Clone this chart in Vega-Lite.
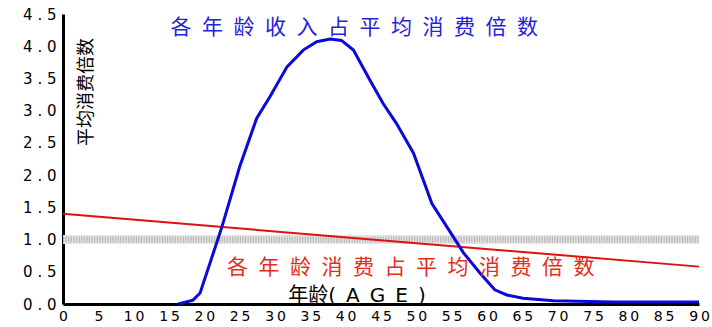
{
  "$schema": "https://vega.github.io/schema/vega-lite/v6.json",
  "width": 636,
  "height": 290,
  "autosize": {"type": "none"},
  "padding": {"left": 63, "top": 14, "right": 13, "bottom": 23},
  "background": "white",
  "config": {
    "view": {"stroke": null},
    "font": "DejaVu Sans"
  },
  "resolve": {"axis": {"x": "independent", "y": "independent"}},
  "datasets": {
    "income": [
      {"age": 16.3, "value": 0.0},
      {"age": 18.4, "value": 0.06},
      {"age": 19.4, "value": 0.17},
      {"age": 22.5, "value": 1.2},
      {"age": 25.0, "value": 2.13},
      {"age": 27.4, "value": 2.88},
      {"age": 29.3, "value": 3.22},
      {"age": 31.7, "value": 3.68},
      {"age": 34.0, "value": 3.94},
      {"age": 35.9, "value": 4.07},
      {"age": 37.8, "value": 4.11},
      {"age": 39.4, "value": 4.09},
      {"age": 41.1, "value": 3.94},
      {"age": 43.4, "value": 3.48},
      {"age": 45.3, "value": 3.11},
      {"age": 47.2, "value": 2.8},
      {"age": 49.6, "value": 2.34},
      {"age": 52.2, "value": 1.56},
      {"age": 54.3, "value": 1.2},
      {"age": 56.7, "value": 0.79},
      {"age": 59.0, "value": 0.48},
      {"age": 61.1, "value": 0.22},
      {"age": 62.8, "value": 0.14},
      {"age": 65.1, "value": 0.09},
      {"age": 69.4, "value": 0.05},
      {"age": 77.9, "value": 0.03},
      {"age": 90.0, "value": 0.03}
    ],
    "consumption": [
      {"age": 0, "value": 1.4},
      {"age": 90, "value": 0.58}
    ],
    "one": [{}]
  },
  "layer": [
    {
      "data": {"name": "one"},
      "mark": {"type": "rule", "strokeWidth": 9, "color": "#e4e4e4"},
      "encoding": {
        "x": {"datum": 0, "type": "quantitative", "axis": null},
        "x2": {"datum": 90},
        "y": {"datum": 1, "type": "quantitative", "axis": null}
      }
    },
    {
      "data": {"name": "one"},
      "mark": {"type": "rule", "strokeWidth": 6, "color": "#a8a8a8", "strokeDash": [1.2, 1.4], "opacity": 0.75},
      "encoding": {
        "x": {"datum": 0, "type": "quantitative", "axis": null},
        "x2": {"datum": 90},
        "y": {"datum": 1, "type": "quantitative", "axis": null}
      }
    },
    {
      "data": {"name": "consumption"},
      "mark": {"type": "line", "color": "#e01010", "strokeWidth": 2},
      "encoding": {
        "x": {"field": "age", "type": "quantitative", "axis": null},
        "y": {"field": "value", "type": "quantitative", "axis": null}
      }
    },
    {
      "data": {"name": "income"},
      "mark": {"type": "line", "color": "#0a0ad8", "strokeWidth": 3},
      "encoding": {
        "x": {
          "field": "age",
          "type": "quantitative",
          "scale": {"domain": [0, 90], "nice": false, "zero": false},
          "axis": {
            "values": [0, 5, 10, 15, 20, 25, 30, 35, 40, 45, 50, 55, 60, 65, 70, 75, 80, 85, 90],
            "title": null,
            "grid": false,
            "ticks": false,
            "domainColor": "black",
            "domainWidth": 3,
            "labelFont": "DejaVu Sans",
            "labelFontSize": 14,
            "labelColor": "black",
            "labelPadding": 5,
            "labelFlush": false,
            "labelOverlap": false,
            "labelExpr": "join(split(format(datum.value, 'd'), ''), '\u2009')"
          }
        },
        "y": {
          "field": "value",
          "type": "quantitative",
          "scale": {"domain": [0, 4.5], "nice": false},
          "axis": {
            "values": [0, 0.5, 1, 1.5, 2, 2.5, 3, 3.5, 4, 4.5],
            "title": null,
            "grid": false,
            "ticks": false,
            "domainColor": "black",
            "domainWidth": 3,
            "labelFont": "DejaVu Sans",
            "labelFontSize": 15,
            "labelColor": "black",
            "labelPadding": 7,
            "labelFlush": false,
            "labelOverlap": false,
            "labelExpr": "replace(format(datum.value, '.1f'), '.', ' . ')"
          }
        }
      }
    },
    {
      "data": {"name": "one"},
      "mark": {"type": "text", "font": "Noto Sans CJK SC", "fontSize": 21, "color": "#2323dd", "align": "center", "baseline": "middle"},
      "encoding": {
        "x": {"datum": 41.2, "type": "quantitative", "axis": null},
        "y": {"datum": 4.28, "type": "quantitative", "axis": null},
        "text": {"value": "各\u2002年\u2002龄\u2002收\u2002入\u2002占\u2002平\u2002均\u2002消\u2002费\u2002倍\u2002数"}
      }
    },
    {
      "data": {"name": "one"},
      "mark": {"type": "text", "font": "Noto Sans CJK SC", "fontSize": 21, "color": "#e62c1c", "align": "center", "baseline": "middle"},
      "encoding": {
        "x": {"datum": 49.2, "type": "quantitative", "axis": null},
        "y": {"datum": 0.56, "type": "quantitative", "axis": null},
        "text": {"value": "各\u2002年\u2002龄\u2002消\u2002费\u2002占\u2002平\u2002均\u2002消\u2002费\u2002倍\u2002数"}
      }
    },
    {
      "data": {"name": "one"},
      "mark": {"type": "text", "font": "Noto Sans CJK SC", "fontSize": 18, "color": "black", "align": "center", "baseline": "middle", "angle": 270},
      "encoding": {
        "x": {"datum": 3.4, "type": "quantitative", "axis": null},
        "y": {"datum": 3.29, "type": "quantitative", "axis": null},
        "text": {"value": "平均消费倍数"}
      }
    },
    {
      "data": {"name": "one"},
      "mark": {"type": "text", "font": "DejaVu Sans, Noto Sans CJK SC", "fontSize": 20, "color": "black", "align": "center", "baseline": "middle"},
      "encoding": {
        "x": {"datum": 41.6, "type": "quantitative", "axis": null},
        "y": {"datum": 0.13, "type": "quantitative", "axis": null},
        "text": {"value": "年龄(\u2002A\u2002G\u2002E\u2002)"}
      }
    }
  ]
}
